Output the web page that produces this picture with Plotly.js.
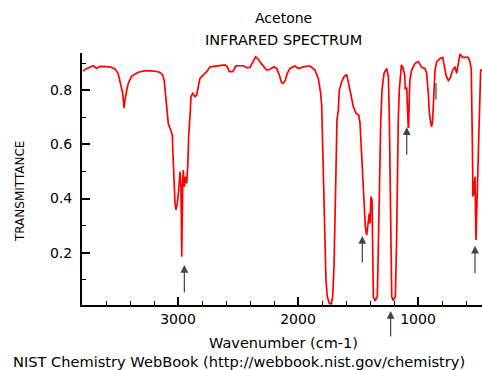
<!DOCTYPE html>
<html>
<head>
<meta charset="utf-8">
<script src="https://cdn.plot.ly/plotly-3.0.1.min.js"></script>
<style>html,body{margin:0;padding:0;background:#fff;}#chart{width:482px;height:370px;}</style>
</head>
<body>
<div id="chart"></div>
<script>
// Wavenumber (cm-1)
const wavenumber = [3790,3783,3750,3706,3678,3650,3600,3567,3525,3500,3489,3475,3461,3455,3450,3445,3439,3425,3414,3386,3331,3280,3233,3164,3140,3128,3115,3108,3100,3094,3081,3061,3047,3044,3039,3033,3025,3017,3006,2994,2983,2975,2969,2961,2956,2947,2939,2928,2919,2911,2903,2897,2892,2878,2858,2844,2831,2817,2789,2761,2733,2678,2608,2589,2572,2544,2517,2456,2428,2400,2378,2353,2331,2303,2261,2233,2200,2178,2156,2136,2122,2106,2089,2067,2039,2025,1997,1956,1914,1900,1858,1831,1811,1803,1797,1789,1781,1772,1767,1756,1739,1722,1711,1700,1692,1683,1675,1664,1656,1636,1617,1600,1594,1581,1567,1553,1539,1517,1494,1483,1472,1461,1450,1439,1428,1417,1406,1400,1392,1383,1378,1372,1358,1339,1331,1322,1311,1300,1283,1261,1247,1239,1233,1228,1219,1206,1189,1178,1172,1164,1156,1144,1138,1128,1111,1106,1094,1086,1081,1078,1072,1067,1053,1025,997,969,942,928,914,906,894,886,878,867,858,844,817,794,783,767,747,733,711,692,678,664,650,628,581,567,556,547,542,533,525,517,506,497,489,478,467];
// Transmittance
const transmittance = [0.870,0.874,0.882,0.890,0.880,0.888,0.887,0.886,0.878,0.862,0.843,0.813,0.788,0.760,0.733,0.755,0.776,0.805,0.825,0.852,0.866,0.871,0.872,0.868,0.862,0.856,0.835,0.800,0.763,0.714,0.677,0.653,0.634,0.585,0.530,0.431,0.382,0.358,0.382,0.431,0.499,0.440,0.185,0.456,0.505,0.443,0.480,0.456,0.517,0.628,0.671,0.727,0.776,0.788,0.776,0.782,0.813,0.843,0.856,0.868,0.886,0.890,0.893,0.886,0.868,0.868,0.890,0.890,0.883,0.884,0.905,0.923,0.914,0.896,0.874,0.877,0.886,0.880,0.856,0.827,0.825,0.837,0.862,0.880,0.886,0.889,0.880,0.886,0.889,0.889,0.874,0.843,0.788,0.745,0.641,0.480,0.333,0.235,0.099,0.038,0.013,0.011,0.038,0.148,0.333,0.542,0.690,0.727,0.800,0.831,0.849,0.856,0.856,0.831,0.800,0.763,0.739,0.714,0.708,0.677,0.579,0.505,0.394,0.296,0.265,0.308,0.345,0.308,0.407,0.394,0.210,0.038,0.023,0.038,0.210,0.456,0.677,0.800,0.862,0.880,0.849,0.702,0.456,0.210,0.038,0.023,0.038,0.250,0.500,0.700,0.800,0.874,0.893,0.886,0.856,0.805,0.807,0.714,0.660,0.665,0.782,0.837,0.874,0.899,0.905,0.884,0.880,0.862,0.788,0.720,0.677,0.665,0.690,0.825,0.874,0.905,0.917,0.921,0.899,0.856,0.835,0.843,0.874,0.886,0.862,0.899,0.933,0.921,0.921,0.905,0.874,0.604,0.407,0.431,0.480,0.247,0.419,0.591,0.751,0.874,0.874];
// Marked peaks (arrow tips)
const peakWavenumber = [2947, 1464, 1094, 525, 1228, 850];
const peakTip = [0.155, 0.262, 0.663, 0.226, -0.015, 0.826];
const xTickVals = [3000, 2000, 1000];
const xTickText = ['3000', '2000', '1000'];
const yTickVals = [0.2, 0.4, 0.6, 0.8];
const yTickText = ['0.2', '0.4', '0.6', '0.8'];

const FONT = 'DejaVu Sans, Verdana, sans-serif';

const trace = {
  x: wavenumber, y: transmittance, type: 'scatter', mode: 'lines',
  line: {color: '#ff0000', width: 1.7}, hoverinfo: 'skip'
};

const yMin = 0.007, yMax = 0.937;
const arrowLens = [29, 28, 29, 29, 27, 18];
const annotations = peakWavenumber.map((w, i) => {
  const inside = peakTip[i] >= yMin;
  return {
    x: w, y: inside ? peakTip[i] : (peakTip[i] - yMin) / (yMax - yMin),
    xref: 'x', yref: inside ? 'y' : 'paper', text: '', showarrow: true,
    ax: 0, ay: arrowLens[i], axref: 'pixel', ayref: 'pixel',
    arrowhead: i === 5 ? 0 : 2, arrowsize: 1.3, arrowwidth: 1.2, arrowcolor: '#444'
  };
});
const txt = (text, x, y, size, extra) => Object.assign({
  text: text, x: x, y: y, xref: 'paper', yref: 'paper', showarrow: false,
  xanchor: 'center', yanchor: 'middle', font: {family: FONT, size: size, color: '#000'}
}, extra || {});
annotations.push(txt('Acetone', 0.5025, 1.139, 14));
annotations.push(txt('INFRARED SPECTRUM', 0.5025, 1.052, 14.5));
annotations.push(txt('TRANSMITTANCE', -0.155, 0.452, 12, {textangle: -90}));
annotations.push(txt('Wavenumber (cm-1)', 0.5025, -0.151, 14.5));
annotations.push(txt('NIST Chemistry WebBook (http://webbook.nist.gov/chemistry)', 0.3925, -0.226, 14.6));

const layout = {
  width: 482, height: 370,
  margin: {l: 82, r: 0, t: 53, b: 65, pad: 0},
  paper_bgcolor: '#fff', plot_bgcolor: '#fff',
  showlegend: false,
  font: {family: FONT, size: 14, color: '#000'},
  xaxis: {
    range: [3800, 466.7], showgrid: false, zeroline: false,
    showline: true, linecolor: '#000', linewidth: 2, mirror: false,
    ticks: 'inside', ticklen: 8, tickwidth: 2, tickcolor: '#000',
    tickvals: xTickVals, ticktext: xTickText,
    minor: {dtick: 200, tick0: 0, ticks: 'inside', ticklen: 4, tickwidth: 1, tickcolor: '#000', showgrid: false},
    tickfont: {family: FONT, size: 14}
  },
  yaxis: {
    range: [yMin, yMax], showgrid: false, zeroline: false,
    showline: true, linecolor: '#000', linewidth: 2, mirror: false,
    ticks: 'inside', ticklen: 8, tickwidth: 2, tickcolor: '#000',
    tickvals: yTickVals, ticktext: yTickText, ticklabelstandoff: 5,
    minor: {dtick: 0.1, tick0: 0, ticks: 'inside', ticklen: 4, tickwidth: 1, tickcolor: '#000', showgrid: false},
    tickfont: {family: FONT, size: 14}
  },
  annotations: annotations
};

Plotly.newPlot('chart', [trace], layout, {displayModeBar: false, staticPlot: true});
</script>
</body>
</html>
